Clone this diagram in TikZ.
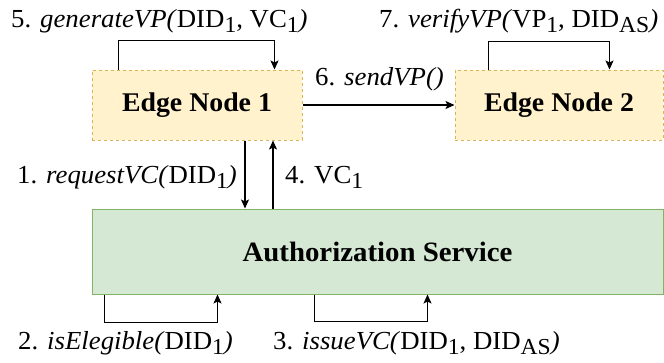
\documentclass[tikz,border=0pt]{standalone}
\usepackage{fontspec}
\setmainfont[FakeStretch=1.03]{Liberation Serif}
\usetikzlibrary{arrows.meta,calc}
\definecolor{edgefill}{HTML}{FFF2CC}
\definecolor{edgedraw}{HTML}{D6B656}
\definecolor{asfill}{HTML}{D5E8D4}
\definecolor{asdraw}{HTML}{82B366}
\newcommand{\lsb}[1]{\raisebox{-0.45ex}{\scalebox{0.88}{#1}}}
\tikzset{
  edgebox/.style={draw=edgedraw, fill=edgefill, dashed, line width=1pt, inner sep=0pt, minimum height=70pt, font=\fontsize{27}{30}\selectfont\bfseries},
  asbox/.style={draw=asdraw, fill=asfill, line width=1pt, inner sep=0pt, minimum height=85pt, minimum width=571pt, font=\fontsize{28}{30}\selectfont\bfseries},
  lbl/.style={anchor=base west, inner sep=0pt, font=\fontsize{26}{28}\selectfont},
  arr/.style={draw=black, line width=1.1pt, -{Stealth[length=9pt,width=8pt,inset=2pt]}},
}
\begin{document}
\begin{tikzpicture}[x=1pt,y=-1pt]
\useasboundingbox (0,0) rectangle (664,362);
\node[edgebox, minimum width=210pt] (edge1) at (197,105) {Edge Node 1};
\node[edgebox, minimum width=208pt] (edge2) at (559,105) {Edge Node 2};
\node[asbox] (as) at (377.5,251.5) {Authorization Service};
% loops
\draw[arr] ([xshift=27pt]edge1.north west) -- ++(0,-29) -| ([xshift=-28pt]edge1.north east);
\draw[arr] ([xshift=34pt]edge2.north west) -- ++(0,-28) -| ([xshift=-54pt]edge2.north east);
\draw[arr] ([xshift=13pt]as.south west) -- ++(0,28) -| ([xshift=126pt]as.south west);
\draw[arr] ([xshift=223pt]as.south west) -- ++(0,27) -| ([xshift=336pt]as.south west);
% vertical arrows
\draw[arr] ([xshift=48pt]edge1.south) -- ([xshift=48pt]edge1.south |- as.north);
\draw[arr] ([xshift=76pt]edge1.south |- as.north) -- ([xshift=76pt]edge1.south);
% horizontal
\draw[arr] (edge1.east) -- (edge2.west);
% labels
\node[lbl] (l5) at (11,27) {5. \textit{generateVP(}DID\lsb{1}, VC\lsb{1}\textit{)}};
\node[lbl] (l7) at (379,27) {7. \textit{verifyVP(}VP\lsb{1}, DID\lsb{AS}\textit{)}};
\node[lbl] (l6) at (315,85) {6. \textit{sendVP()}};
\node[lbl] (l1) at (17,183) {1. \textit{requestVC(}DID\lsb{1}\textit{)}};
\node[lbl] (l4) at (285,183) {4. VC\lsb{1}};
\node[lbl] (l2) at (18,349) {2. \textit{isElegible(}DID\lsb{1}\textit{)}};
\node[lbl] (l3) at (273,349) {3. \textit{issueVC(}DID\lsb{1}, DID\lsb{AS}\textit{)}};
\end{tikzpicture}
\end{document}
